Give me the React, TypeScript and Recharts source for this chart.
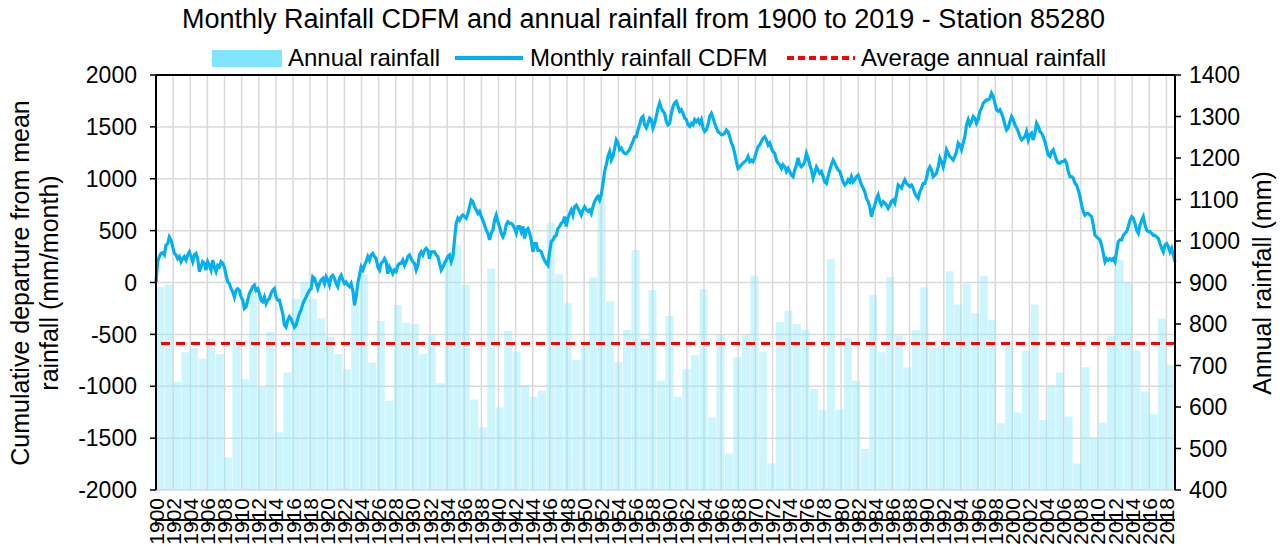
import React from "react";
import { Bar, CartesianGrid, ComposedChart, Line, ReferenceLine, XAxis, YAxis } from "recharts";

// annual rainfall (mm), 1900 -> 2019
const annualRain = [
  890, 895, 661, 732, 743, 716, 765, 727, 478, 763,
  666, 880, 648, 781, 539, 683, 861, 901, 861, 813,
  769, 728, 691, 845, 918, 707, 807, 615, 846, 803,
  800, 728, 772, 657, 962, 990, 894, 618, 551, 934,
  599, 784, 733, 653, 625, 639, 1044, 920, 850, 713,
  745, 912, 1102, 854, 708, 786, 978, 765, 882, 663,
  819, 625, 691, 725, 884, 575, 773, 488, 720, 773,
  916, 733, 464, 805, 832, 800, 786, 643, 593, 956,
  594, 767, 663, 499, 870, 732, 914, 772, 695, 785,
  888, 743, 745, 927, 847, 897, 826, 916, 810, 561,
  745, 587, 735, 847, 569, 652, 683, 577, 464, 696,
  526, 562, 771, 954, 900, 736, 637, 583, 813, 701,
];
const firstYear = 1900;

// monthly CDFM (mm/month), read at evenly spaced points from 1900 to 2019
const cdfm1900s = [
  5, 200, 250, 280, 285, 265, 360, 375, 440, 410, 345, 280, 265, 230, 250, 200, 230, 250, 215, 265,
  295, 250, 200, 265, 280, 230, 105, 150, 200, 185, 120, 200, 165, 120, 215, 150, 105, 165, 150, 200,
  185, 150, 70, 5, -10, -60, -90, -140, -75, -60, -75, -140, -170, -250, -235, -170, -105, -75, -40, -25,
  -75, -60, -105, -170, -185, -140, -205, -170, -155, -105, -75, -60, -140, -170,
];
const cdfm1915s = [
  -170, -235, -300, -410, -430, -365, -330, -350, -395, -430, -410, -350, -300, -265, -205, -170, -140, -105, -75, -60,
  55, 40, -10, -60, -10, 25, 40, -10, 55, 25, -25, 55, 70, 40, -10, -40, 40, 70, 25, -10,
  5, -25, -40, -10, -75, -220, -140, -10, 70, 150, 120, 165, 200, 250, 215, 265, 280, 250, 230, 150,
  120, 185, 200, 230, 200, 85, 150, 120, 85, 120, 105, 165, 185, 185, 215, 165, 200, 250,
];
const cdfm1930s = [
  265, 230, 200, 185, 120, 165, 265, 295, 265, 310, 330, 310, 230, 295, 295, 295, 265, 250, 185, 120,
  150, 185, 215, 250, 265, 200, 250, 410, 570, 620, 600, 635, 650, 635, 620, 665, 730, 795, 780, 730,
  700, 665, 685, 635, 600, 555, 505, 475, 410, 475, 505, 600, 650, 585, 540, 475, 440, 475, 555, 585,
  570, 570, 555, 520, 475, 540, 540, 490, 540, 425, 505, 520, 475, 410, 295, 375, 375, 310,
];
const cdfm1945s = [
  310, 295, 250, 215, 185, 165, 295, 395, 410, 440, 455, 520, 540, 570, 585, 635, 540, 620, 665, 700,
  650, 730, 745, 715, 685, 650, 700, 730, 700, 685, 700, 665, 730, 780, 810, 830, 795, 845, 955, 1070,
  1135, 1215, 1260, 1180, 1215, 1295, 1375, 1345, 1280, 1295, 1260, 1245, 1245, 1260, 1280, 1325, 1360, 1405, 1405, 1470,
  1520, 1585, 1600, 1520, 1490, 1535, 1585, 1570, 1490, 1535, 1600, 1680, 1730, 1680, 1650, 1630, 1550, 1520,
];
const cdfm1960s = [
  1535, 1630, 1695, 1730, 1745, 1695, 1650, 1665, 1630, 1585, 1570, 1520, 1505, 1535, 1520, 1570, 1550, 1570, 1535, 1570,
  1490, 1455, 1470, 1520, 1600, 1630, 1585, 1535, 1490, 1455, 1440, 1425, 1425, 1440, 1470, 1455, 1405, 1345, 1310, 1245,
  1165, 1100, 1115, 1135, 1150, 1165, 1180, 1215, 1165, 1180, 1165, 1200, 1260, 1310, 1325, 1360, 1390, 1405, 1375, 1325,
  1345, 1295, 1260, 1245, 1180, 1150, 1135, 1100, 1135, 1115, 1070, 1100, 1070, 1035, 1020, 1085, 1135, 1200,
];
const cdfm1975s = [
  1135, 1115, 1135, 1165, 1245, 1200, 1135, 1085, 1005, 1055, 1115, 1085, 1055, 1070, 1020, 970, 955, 1020, 1085, 1135,
  1180, 1150, 1115, 1085, 1070, 1020, 970, 940, 955, 990, 970, 1020, 970, 990, 1020, 1035, 990, 940, 910, 875,
  810, 780, 730, 635, 700, 745, 810, 845, 780, 745, 780, 765, 745, 715, 745, 780, 795, 765, 845, 940,
  925, 910, 955, 990, 955, 940, 925, 940, 910, 860, 830, 810, 875, 910, 955, 955, 1005, 1085,
];
const cdfm1990s = [
  1115, 1085, 1020, 1035, 1055, 1115, 1200, 1165, 1115, 1180, 1280, 1245, 1215, 1200, 1180, 1215, 1260, 1345, 1325, 1280,
  1345, 1405, 1520, 1570, 1520, 1550, 1600, 1585, 1535, 1570, 1650, 1680, 1730, 1745, 1760, 1760, 1775, 1825, 1795, 1730,
  1665, 1650, 1665, 1630, 1585, 1520, 1470, 1490, 1550, 1600, 1570, 1520, 1490, 1455, 1405, 1375, 1390, 1405, 1455, 1375,
  1425, 1440, 1375, 1440, 1535, 1505, 1455, 1440, 1405, 1360, 1295, 1230, 1215, 1260, 1280, 1230, 1180, 1150,
];
const cdfm2005s = [
  1150, 1165, 1165, 1180, 1150, 1070, 1020, 1020, 1005, 955, 940, 890, 830, 745, 685, 650, 665, 665, 650, 635,
  555, 455, 440, 425, 410, 360, 280, 200, 230, 215, 230, 215, 230, 200, 295, 395, 410, 410, 455, 475,
  490, 540, 600, 635, 620, 570, 505, 475, 555, 600, 635, 555, 505, 490, 490, 475, 455, 455, 440, 425,
  375, 330, 295, 360, 375, 345, 295, 330, 265, 200,
];

const leftTicks = [-2000, -1500, -1000, -500, 0, 500, 1000, 1500, 2000];
const rightTicks = [400, 500, 600, 700, 800, 900, 1000, 1100, 1200, 1300, 1400];
const yearTicks = [
  1900, 1902, 1904, 1906, 1908, 1910, 1912, 1914, 1916, 1918, 1920, 1922, 1924, 1926, 1928,
  1930, 1932, 1934, 1936, 1938, 1940, 1942, 1944, 1946, 1948, 1950, 1952, 1954, 1956, 1958,
  1960, 1962, 1964, 1966, 1968, 1970, 1972, 1974, 1976, 1978, 1980, 1982, 1984, 1986, 1988,
  1990, 1992, 1994, 1996, 1998, 2000, 2002, 2004, 2006, 2008, 2010, 2012, 2014, 2016, 2018,
];

const barData = annualRain.map((rain, i) => ({ year: firstYear + i, rain }));
const avgRain = annualRain.reduce((s, v) => s + v, 0) / annualRain.length;

const cdfmAll = [
  ...cdfm1900s, ...cdfm1915s, ...cdfm1930s, ...cdfm1945s,
  ...cdfm1960s, ...cdfm1975s, ...cdfm1990s, ...cdfm2005s,
];
const cdfmStep = 119 / (cdfmAll.length - 1);
const cdfmData = cdfmAll.map((cdfm, i) => ({ t: firstYear + i * cdfmStep, cdfm }));

const FONT = "'Liberation Sans', Arial, sans-serif";
const BAR_FILL = "#8ee8fb";
const LINE_BLUE = "#00b0f0";
const PLOT_BOTTOM = 490;

// year labels stand on their end, right under the tick marks
function YearTick({ x, payload }: any) {
  return (
    <text
      transform={`translate(${x},${PLOT_BOTTOM + 8}) rotate(-90)`}
      textAnchor="end"
      dominantBaseline="central"
      fontSize={21}
      fontFamily={FONT}
      fill="#000"
    >
      {payload.value}
    </text>
  );
}

export default function App() {
  const tickStyle = { fontSize: 23, fill: "#000", fontFamily: FONT };
  return (
    <div style={{ position: "absolute", left: 0, top: 0, width: 1287, height: 558, background: "#fff", fontFamily: FONT, overflow: "hidden" }}>
      <div style={{ position: "absolute", left: 0, top: 3, width: 1287, textAlign: "center", fontSize: 27, lineHeight: "32px" }}>
        Monthly Rainfall CDFM and annual rainfall from 1900 to 2019 - Station 85280
      </div>

      {/* legend */}
      <div style={{ position: "absolute", left: 212, top: 50, width: 70, height: 17, background: "#80e5fc" }} />
      <div style={{ position: "absolute", left: 288, top: 44, fontSize: 24, lineHeight: "28px" }}>Annual rainfall</div>
      <svg style={{ position: "absolute", left: 455, top: 54 }} width={68} height={8}>
        <line x1={0} y1={4} x2={68} y2={4} stroke={LINE_BLUE} strokeWidth={4} />
      </svg>
      <div style={{ position: "absolute", left: 530, top: 44, fontSize: 24, lineHeight: "28px" }}>Monthly rainfall CDFM</div>
      <svg style={{ position: "absolute", left: 787, top: 54 }} width={68} height={8}>
        <line x1={0} y1={4} x2={68} y2={4} stroke="#ff0000" strokeWidth={4} strokeDasharray="7 4" />
      </svg>
      <div style={{ position: "absolute", left: 861, top: 44, fontSize: 24, lineHeight: "28px" }}>Average annual rainfall</div>

      {/* axis titles */}
      <div style={{ position: "absolute", left: 35, top: 283, transform: "translate(-50%, -50%) rotate(-90deg)", whiteSpace: "nowrap", textAlign: "center", fontSize: 25, lineHeight: "29px" }}>
        Cumulative departure from mean<br />rainfall (mm/month)
      </div>
      <div style={{ position: "absolute", left: 1262, top: 283, transform: "translate(-50%, -50%) rotate(-90deg)", whiteSpace: "nowrap", fontSize: 25, lineHeight: "30px" }}>
        Annual rainfall (mm)
      </div>

      <div style={{ position: "absolute", left: 0, top: 0 }}>
        <ComposedChart
          width={1287}
          height={558}
          data={barData}
          margin={{ top: 75, right: 32, bottom: 8, left: 56 }}
          barCategoryGap={0}
          barGap={0}
        >
          <CartesianGrid xAxisId="t" yAxisId="left" stroke="#d9d9d9" strokeWidth={1.5} />
          <XAxis xAxisId="cat" dataKey="year" type="category" hide />
          <XAxis
            xAxisId="t"
            dataKey="t"
            type="number"
            domain={[1900, 2019]}
            ticks={yearTicks}
            interval={0}
            height={60}
            tick={<YearTick />}
            tickSize={6}
            axisLine={{ stroke: "#000", strokeWidth: 2 }}
            tickLine={{ stroke: "#000", strokeWidth: 1.5 }}
          />
          <YAxis
            yAxisId="left"
            domain={[-2000, 2000]}
            ticks={leftTicks}
            interval={0}
            width={100}
            tick={tickStyle}
            tickSize={6}
            tickMargin={13}
            axisLine={{ stroke: "#000", strokeWidth: 2 }}
            tickLine={{ stroke: "#000", strokeWidth: 1.5 }}
          />
          <YAxis
            yAxisId="right"
            orientation="right"
            domain={[400, 1400]}
            ticks={rightTicks}
            interval={0}
            width={80}
            tick={tickStyle}
            tickSize={6}
            tickMargin={8}
            axisLine={{ stroke: "#000", strokeWidth: 2 }}
            tickLine={{ stroke: "#000", strokeWidth: 1.5 }}
          />
          <Bar
            xAxisId="cat"
            yAxisId="right"
            dataKey="rain"
            fill={BAR_FILL}
            fillOpacity={0.45}
            isAnimationActive={false}
          />
          <Line
            xAxisId="t"
            yAxisId="left"
            data={cdfmData}
            dataKey="cdfm"
            type="linear"
            stroke={LINE_BLUE}
            strokeWidth={3.2}
            dot={false}
            isAnimationActive={false}
          />
          <ReferenceLine xAxisId="t" yAxisId="right" y={avgRain} stroke="#ff0000" strokeWidth={3} strokeDasharray="9 6" />
          <ReferenceLine xAxisId="t" yAxisId="left" y={2000} stroke="#000" strokeWidth={2} />
        </ComposedChart>
      </div>
    </div>
  );
}
